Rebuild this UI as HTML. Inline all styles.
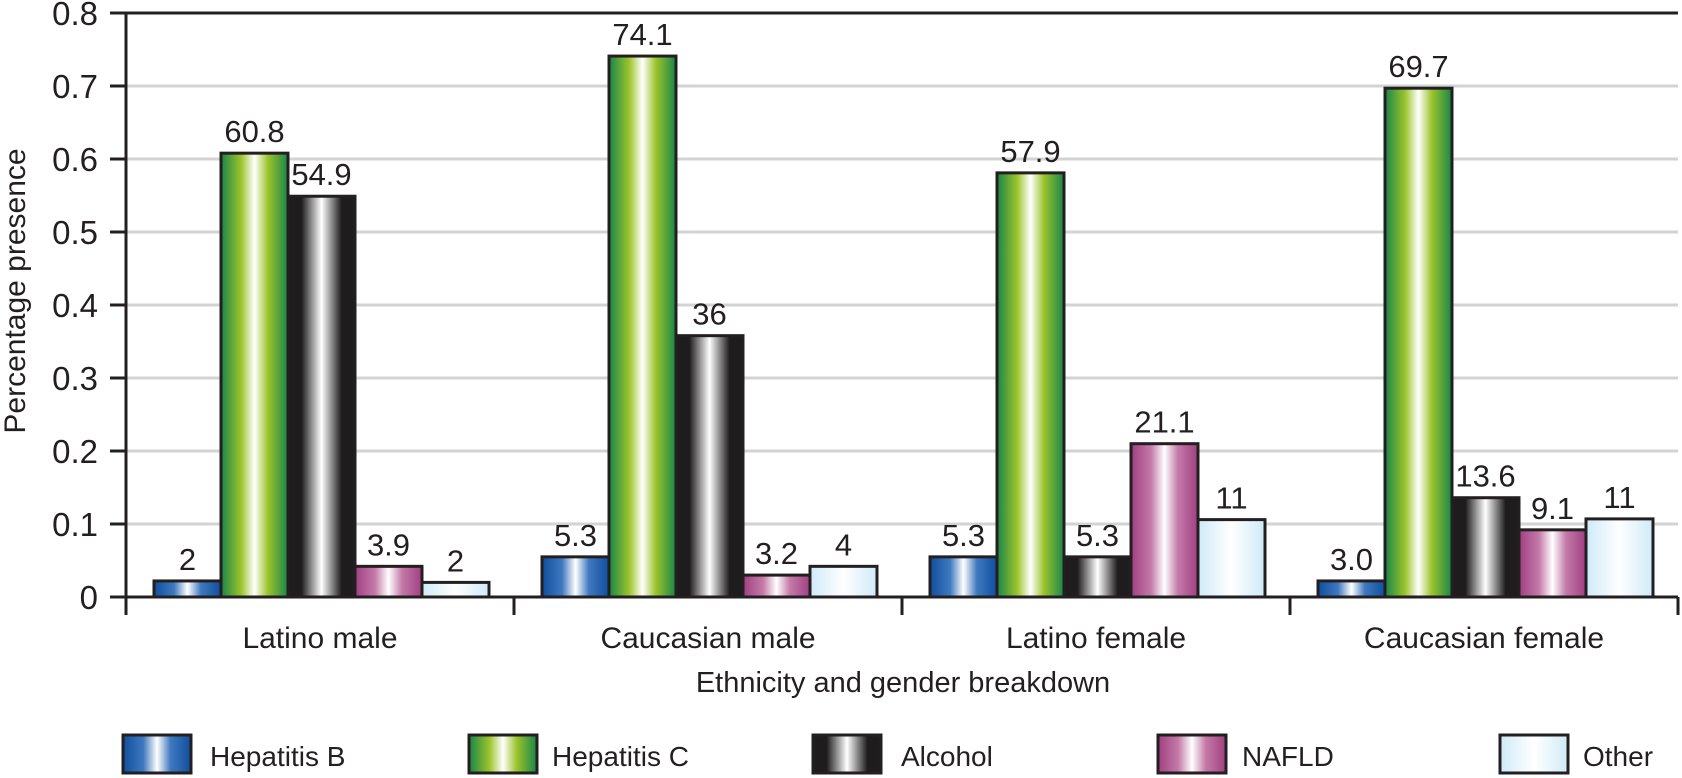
<!DOCTYPE html>
<html><head><meta charset="utf-8">
<style>
html,body{margin:0;padding:0;background:#fff;}
svg{display:block;font-family:"Liberation Sans",Arial,sans-serif;}
</style></head>
<body>
<svg id="chart" width="1682" height="778" viewBox="0 0 1682 778" xmlns="http://www.w3.org/2000/svg">
<defs>
<linearGradient id="g0" x1="0" x2="1" y1="0" y2="0"><stop offset="0" stop-color="#0f4f9e"/><stop offset="0.3" stop-color="#3f78bf"/><stop offset="0.5" stop-color="#ffffff"/><stop offset="0.7" stop-color="#3f78bf"/><stop offset="1" stop-color="#0f4f9e"/></linearGradient>
<linearGradient id="g1" x1="0" x2="1" y1="0" y2="0"><stop offset="0" stop-color="#17854a"/><stop offset="0.3" stop-color="#9cc32b"/><stop offset="0.5" stop-color="#ffffff"/><stop offset="0.7" stop-color="#9cc32b"/><stop offset="1" stop-color="#17854a"/></linearGradient>
<linearGradient id="g2" x1="0" x2="1" y1="0" y2="0"><stop offset="0" stop-color="#1e1c1d"/><stop offset="0.2" stop-color="#1e1c1d"/><stop offset="0.5" stop-color="#ffffff"/><stop offset="0.8" stop-color="#1e1c1d"/><stop offset="1" stop-color="#1e1c1d"/></linearGradient>
<linearGradient id="g3" x1="0" x2="1" y1="0" y2="0"><stop offset="0" stop-color="#a03f82"/><stop offset="0.3" stop-color="#c47aa8"/><stop offset="0.5" stop-color="#ffffff"/><stop offset="0.7" stop-color="#c47aa8"/><stop offset="1" stop-color="#a03f82"/></linearGradient>
<linearGradient id="g4" x1="0" x2="1" y1="0" y2="0"><stop offset="0" stop-color="#cfeaf8"/><stop offset="0.5" stop-color="#ffffff"/><stop offset="1" stop-color="#cfeaf8"/></linearGradient>
</defs>
<g id="grid"></g>
<g id="bars"></g>
<g id="axes"></g>
<g id="legend"></g>
<text transform="translate(25,291) rotate(-90)" text-anchor="middle" font-size="30" fill="#231f20">Percentage presence</text>
<text x="903" y="692" text-anchor="middle" font-size="29" fill="#231f20">Ethnicity and gender breakdown</text>
</svg>
<script>
const categories = ["Latino male","Caucasian male","Latino female","Caucasian female"];
const seriesNames = ["Hepatitis B","Hepatitis C","Alcohol","NAFLD","Other"];
const hepB = [0.022,0.055,0.055,0.022];
const hepC = [0.608,0.741,0.581,0.697];
const alcohol = [0.549,0.358,0.055,0.136];
const nafld = [0.042,0.030,0.210,0.092];
const other = [0.020,0.042,0.106,0.107];
const labHepB = ["2","5.3","5.3","3.0"];
const labHepC = ["60.8","74.1","57.9","69.7"];
const labAlcohol = ["54.9","36","5.3","13.6"];
const labNafld = ["3.9","3.2","21.1","9.1"];
const labOther = ["2","4","11","11"];
const yTicks = [0,0.1,0.2,0.3,0.4,0.5,0.6,0.7,0.8];

const NS="http://www.w3.org/2000/svg";
const X0=126, X1=1678, Y0=597, YT=13, YMAX=0.8;
const groupW=(X1-X0)/categories.length, barW=67, offset=28;
function yScale(v){return Y0-(v/YMAX)*(Y0-YT);}
function xBar(ci,si){return X0+ci*groupW+offset+si*barW;}
function mk(tag,attrs,parent){const e=document.createElementNS(NS,tag);for(const k in attrs)e.setAttribute(k,attrs[k]);parent.appendChild(e);return e;}

const gridG=document.getElementById('grid'), axesG=document.getElementById('axes'), barsG=document.getElementById('bars'), legendG=document.getElementById('legend');
yTicks.forEach((t)=>{
  const y=yScale(t);
  if(t>0 && t<YMAX){const gl=mk('line',{x1:X0,x2:X1,y1:y,y2:y,stroke:'#d3d3d3','stroke-width':3},gridG);
  
  }
  const tk=mk('line',{x1:110,x2:X0,y1:y,y2:y,stroke:'#231f20','stroke-width':3},axesG);
  
  
  const tl=mk('text',{x:98,y:y+12,'text-anchor':'end','font-size':33,fill:'#231f20'},axesG);
  
  
  tl.textContent=t===0?'0':t.toFixed(1);
});
const topLine=mk('line',{x1:110,x2:X1,y1:YT,y2:YT,stroke:'#231f20','stroke-width':3},axesG);


const yAxisLine=mk('line',{x1:X0,x2:X0,y1:YT-1.5,y2:615,stroke:'#231f20','stroke-width':3},axesG);


const xAxisLine=mk('line',{x1:110,x2:X1,y1:Y0,y2:Y0,stroke:'#231f20','stroke-width':3},axesG);


for(let c=1;c<=categories.length;c++){
  const x=X0+c*groupW;
  const tkx=mk('line',{x1:x,x2:x,y1:Y0,y2:615,stroke:'#231f20','stroke-width':3},axesG);
  
  
}
categories.forEach((c,i)=>{
  const cl=mk('text',{x:X0+i*groupW+groupW/2,y:648,'text-anchor':'middle','font-size':30,fill:'#231f20'},axesG);
  
  
  cl.textContent=c;
});
const allSeries=[hepB,hepC,alcohol,nafld,other];
const allLabels=[labHepB,labHepC,labAlcohol,labNafld,labOther];
allSeries.forEach((ser,si)=>{
  ser.forEach((v,ci)=>{
    const x=xBar(ci,si), y=yScale(v);
    const r=mk('rect',{x:x,y:y,width:barW,height:Y0-y,fill:'url(#g'+si+')',stroke:'#231f20','stroke-width':3},barsG);
    
    
    const vl=mk('text',{x:x+barW/2,y:y-11,'text-anchor':'middle','font-size':31,fill:'#231f20'},barsG);
    
    
    vl.textContent=allLabels[si][ci];
  });
});
const legX=[123,469,813,1158,1500], legT=[210,552,901,1242,1583];
seriesNames.forEach((n,i)=>{
  const g=mk('g',{},legendG);
  
  
  const sw=mk('rect',{x:legX[i],y:735,width:68,height:38,fill:'url(#g'+i+')',stroke:'#231f20','stroke-width':3},g);
  
  
  const lt=mk('text',{x:legT[i],y:766,'font-size':28,fill:'#231f20'},g);
  
  
  lt.textContent=n;
});
</script>
</body></html>
